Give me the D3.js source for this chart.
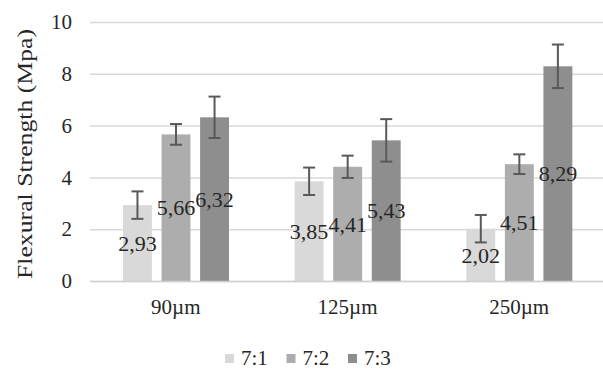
<!DOCTYPE html>
<html>
<head>
<meta charset="utf-8">
<script src="https://cdn.jsdelivr.net/npm/d3@7"></script>
<style>
  body { margin: 0; background: #fff; }
  text { font-family: "Liberation Serif", "Times New Roman", serif; fill: #262626; }
</style>
</head>
<body>
<div id="chart"></div>
<script>
// chart data
var groups = ["90µm", "125µm", "250µm"];
var series = ["7:1", "7:2", "7:3"];
var values71 = [2.93, 3.85, 2.02];
var values72 = [5.66, 4.41, 4.51];
var values73 = [6.32, 5.43, 8.29];
var errors71 = [0.53, 0.53, 0.53];
var errors72 = [0.40, 0.43, 0.38];
var errors73 = [0.80, 0.82, 0.84];
var yTicks = [0, 2, 4, 6, 8, 10];

var svgWidth = 603;
var svgHeight = 371;

var margin = { top: 22, right: 0, bottom: 90, left: 90 };
var chartWidth = 515;
var chartHeight = svgHeight - margin.top - margin.bottom;

var colors = { "7:1": "#d9d9d9", "7:2": "#adadad", "7:3": "#8e8e8e" };

// build table rows from the arrays
var valueSets = [values71, values72, values73];
var errorSets = [errors71, errors72, errors73];
var rows = [];
groups.forEach(function(g, gi) {
  series.forEach(function(s, si) {
    rows.push({ group: g, series: s, value: valueSets[si][gi], err: errorSets[si][gi] });
  });
});

var svg = d3.select("#chart")
  .append("svg")
  .attr("width", svgWidth)
  .attr("height", svgHeight);

var chartGroup = svg.append("g")
  .attr("transform", `translate(${margin.left}, ${margin.top})`);

// scales
var x0 = d3.scaleBand().domain(groups).range([0, chartWidth]).padding(0);
var x1 = d3.scaleBand().domain(series).range([33, 139]).paddingInner(0.25).paddingOuter(0);
var y = d3.scaleLinear().domain([0, 10]).range([chartHeight, 0]);

// gridlines
var grid = chartGroup.append("g")
  .call(d3.axisLeft(y).tickValues(yTicks).tickSize(-chartWidth).tickFormat(""));
grid.select(".domain").remove();
grid.selectAll("line").attr("stroke", "#d9d9d9").attr("stroke-width", 1.5);

// y tick labels
var yAxis = chartGroup.append("g")
  .call(d3.axisLeft(y).tickValues(yTicks).tickSize(0).tickPadding(18));
yAxis.select(".domain").remove();
yAxis.selectAll("text").style("font-size", "21px").attr("fill", "#262626");

// bars
chartGroup.selectAll("rect.bar")
  .data(rows)
  .enter()
  .append("rect")
  .attr("class", "bar")
  .attr("x", d => x0(d.group) + x1(d.series))
  .attr("y", d => y(d.value))
  .attr("width", x1.bandwidth())
  .attr("height", d => chartHeight - y(d.value))
  .attr("fill", d => colors[d.series]);

// x axis line
var xAxis = chartGroup.append("g")
  .attr("transform", `translate(0, ${chartHeight})`)
  .call(d3.axisBottom(x0).tickSize(0).tickPadding(18));
xAxis.select(".domain").attr("stroke", "#d0d0d0").attr("stroke-width", 1.5);
xAxis.selectAll("text").style("font-size", "21px").attr("fill", "#262626");

// error bars
var errG = chartGroup.selectAll("g.err")
  .data(rows)
  .enter()
  .append("g")
  .attr("class", "err")
  .attr("stroke", "#595959")
  .attr("stroke-width", 2);
var cx = d => x0(d.group) + x1(d.series) + x1.bandwidth() / 2;
errG.append("line")
  .attr("x1", cx).attr("x2", cx)
  .attr("y1", d => y(d.value + d.err)).attr("y2", d => y(d.value - d.err));
errG.append("line")
  .attr("x1", d => cx(d) - 6).attr("x2", d => cx(d) + 6)
  .attr("y1", d => y(d.value + d.err)).attr("y2", d => y(d.value + d.err));
errG.append("line")
  .attr("x1", d => cx(d) - 6).attr("x2", d => cx(d) + 6)
  .attr("y1", d => y(d.value - d.err)).attr("y2", d => y(d.value - d.err));

// data labels, centred in the bar
chartGroup.selectAll("text.lbl")
  .data(rows)
  .enter()
  .append("text")
  .attr("class", "lbl")
  .attr("x", cx)
  .attr("y", d => y(d.value / 2))
  .attr("dy", "0.35em")
  .attr("text-anchor", "middle")
  .style("font-size", "22px")
  .text(d => d.value.toFixed(2).replace(".", ","));

// y axis title
svg.append("text")
  .attr("transform", "translate(32, 154) rotate(-90)")
  .attr("text-anchor", "middle")
  .attr("textLength", 250)
  .attr("lengthAdjust", "spacingAndGlyphs")
  .style("font-size", "22px")
  .text("Flexural Strength (Mpa)");

// legend
var legend = svg.append("g")
  .attr("transform", "translate(225, 354)");
var item = legend.selectAll("g")
  .data(series)
  .enter()
  .append("g")
  .attr("transform", (d, i) => `translate(${i * 61.5}, 0)`);
item.append("rect")
  .attr("width", 9).attr("height", 9)
  .attr("fill", d => colors[d]);
item.append("text")
  .attr("x", 16)
  .attr("y", 11)
  .style("font-size", "21px")
  .text(d => d);
</script>
</body>
</html>
